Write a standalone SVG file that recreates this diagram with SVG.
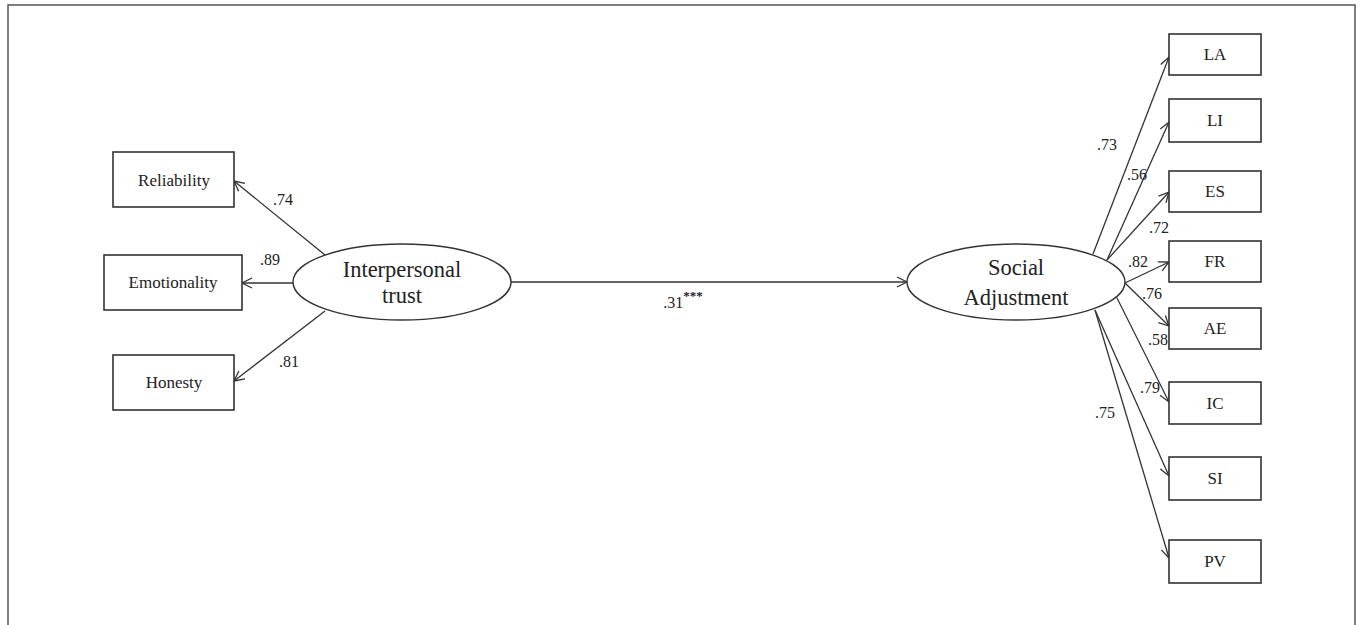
<svg xmlns="http://www.w3.org/2000/svg" width="1360" height="625" viewBox="0 0 1360 625">
<defs>
<marker id="arr" viewBox="0 0 12 12" refX="11" refY="6" markerWidth="12" markerHeight="12" markerUnits="userSpaceOnUse" orient="auto">
<path d="M1,1 L11,6 L1,11" fill="none" stroke="#333" stroke-width="1.3"/>
</marker>
<style>
.box{fill:#fff;stroke:#333;stroke-width:1.6}
.ell{fill:#fff;stroke:#333;stroke-width:1.4}
.t{font-family:"Liberation Serif","Times New Roman",serif;fill:#222;text-anchor:middle}
.bt{font-size:17px}
.et{font-size:22.5px}
.lb{font-family:"Liberation Serif","Times New Roman",serif;fill:#222;font-size:16px;text-anchor:middle}
.c{fill:none;stroke:#333;stroke-width:1.3;marker-end:url(#arr)}
</style>
</defs>
<rect width="1360" height="625" fill="#fff"/>
<path d="M8,625 V5 H1355 V625" fill="none" stroke="#555" stroke-width="1.5"/>
<g id="connectors">
<line class="c" x1="325" y1="255" x2="234" y2="181"/>
<line class="c" x1="293" y1="283" x2="242" y2="283"/>
<line class="c" x1="325" y1="311" x2="234" y2="381"/>
<line class="c" x1="511" y1="282" x2="907" y2="282"/>
<line class="c" x1="1093" y1="254" x2="1169" y2="57"/>
<line class="c" x1="1107" y1="260" x2="1169" y2="122"/>
<line class="c" x1="1107" y1="260" x2="1169" y2="192"/>
<line class="c" x1="1125" y1="283" x2="1169" y2="262"/>
<line class="c" x1="1125" y1="283" x2="1169" y2="326"/>
<line class="c" x1="1117" y1="298" x2="1169" y2="402"/>
<line class="c" x1="1095" y1="310" x2="1169" y2="476"/>
<line class="c" x1="1095" y1="310" x2="1169" y2="558"/>
</g>
<g id="labels">
<text class="lb" x="283" y="205">.74</text>
<text class="lb" x="270" y="265">.89</text>
<text class="lb" x="289" y="367">.81</text>
<text class="lb" x="683" y="308">.31<tspan font-size="13" font-weight="bold" dy="-8">***</tspan></text>
<text class="lb" x="1107" y="150">.73</text>
<text class="lb" x="1137" y="180">.56</text>
<text class="lb" x="1159" y="233">.72</text>
<text class="lb" x="1138" y="267">.82</text>
<text class="lb" x="1152" y="299">.76</text>
<text class="lb" x="1158" y="345">.58</text>
<text class="lb" x="1150" y="393">.79</text>
<text class="lb" x="1105" y="418">.75</text>
</g>
<g id="reliability"><rect class="box" x="113" y="152" width="121" height="55"/><text class="t bt" x="174" y="186">Reliability</text></g>
<g id="emotionality"><rect class="box" x="104" y="255" width="138" height="55"/><text class="t bt" x="173" y="288">Emotionality</text></g>
<g id="honesty"><rect class="box" x="113" y="355" width="121" height="55"/><text class="t bt" x="174" y="388">Honesty</text></g>
<g id="interpersonal-trust"><ellipse class="ell" cx="402" cy="282" rx="109" ry="38"/><text class="t et" x="402" y="277">Interpersonal</text><text class="t et" x="402" y="303">trust</text></g>
<g id="social-adjustment"><ellipse class="ell" cx="1016" cy="282" rx="109" ry="38"/><text class="t et" x="1016" y="275">Social</text><text class="t et" x="1016" y="305">Adjustment</text></g>
<g id="LA"><rect class="box" x="1169" y="34" width="92" height="41"/><text class="t bt" x="1215" y="60">LA</text></g>
<g id="LI"><rect class="box" x="1169" y="99" width="92" height="43"/><text class="t bt" x="1215" y="126">LI</text></g>
<g id="ES"><rect class="box" x="1169" y="171" width="92" height="41"/><text class="t bt" x="1215" y="197">ES</text></g>
<g id="FR"><rect class="box" x="1169" y="241" width="92" height="41"/><text class="t bt" x="1215" y="267">FR</text></g>
<g id="AE"><rect class="box" x="1169" y="308" width="92" height="41"/><text class="t bt" x="1215" y="334">AE</text></g>
<g id="IC"><rect class="box" x="1169" y="382" width="92" height="42"/><text class="t bt" x="1215" y="409">IC</text></g>
<g id="SI"><rect class="box" x="1169" y="457" width="92" height="43"/><text class="t bt" x="1215" y="484">SI</text></g>
<g id="PV"><rect class="box" x="1169" y="540" width="92" height="43"/><text class="t bt" x="1215" y="567">PV</text></g>
</svg>
